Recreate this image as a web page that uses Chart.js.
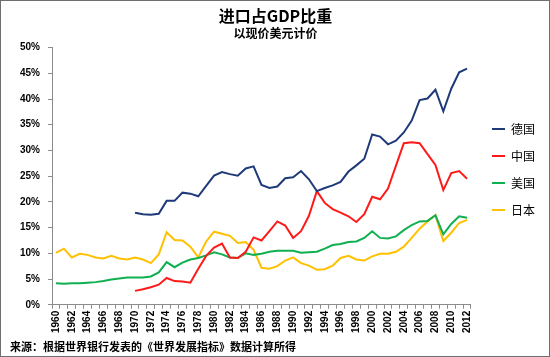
<!DOCTYPE html>
<html>
<head>
<meta charset="utf-8">
<script src="https://cdn.jsdelivr.net/npm/chart.js@4/dist/chart.umd.min.js"></script>
<style>
  html, body { margin: 0; padding: 0; background: #fff; }
  #wrap { position: relative; width: 550px; height: 357px; overflow: hidden; background: #fff; }
  #c { position: absolute; left: 0; top: 0; }
  #frame { position: absolute; left: 0; top: 0; width: 548px; height: 355px; border: 1px solid #6e6e6e; pointer-events: none; }
  #footer { position: absolute; left: 10px; top: 340px; font: bold 11px "Noto Sans CJK SC", sans-serif; color: #000; white-space: nowrap; line-height: 13px; }
</style>
</head>
<body>
<div id="wrap">
  <canvas id="c" width="550" height="357"></canvas>
  <div id="footer">来源：根据世界银行发表的《世界发展指标》数据计算所得</div>
  <div id="frame"></div>
</div>
<script>
// ---- data ----
const years = [];
for (let y = 1960; y <= 2012; y++) years.push(String(y));

const germany = [
  null, null, null, null, null, null, null, null, null, null,
  17.9, 17.6, 17.5, 17.7, 20.2, 20.2, 21.8, 21.6, 21.1, 23.1,
  25.1, 25.8, 25.4, 25.1, 26.5, 26.9, 23.3, 22.7, 23.0, 24.6,
  24.8, 26.0, 24.4, 22.1, 22.7, 23.2, 23.9, 25.9, 27.1, 28.4,
  33.1, 32.7, 31.2, 31.9, 33.5, 35.8, 39.8, 40.1, 41.8, 37.6,
  42.0, 45.2, 45.9
];
const china = [
  null, null, null, null, null, null, null, null, null, null,
  2.7, 3.0, 3.4, 3.9, 5.2, 4.6, 4.5, 4.3, 7.0, 9.5,
  11.1, 11.9, 9.2, 9.1, 10.3, 13.1, 12.5, 14.3, 16.2, 15.4,
  13.0, 14.3, 17.3, 22.1, 19.8, 18.6, 17.9, 17.2, 16.1, 17.6,
  21.0, 20.5, 22.6, 27.0, 31.4, 31.6, 31.4, 29.3, 27.2, 22.3,
  25.6, 26.0, 24.5
];
const usa = [
  4.2, 4.1, 4.2, 4.2, 4.3, 4.4, 4.6, 4.9, 5.1, 5.3,
  5.3, 5.3, 5.5, 6.3, 8.3, 7.3, 8.2, 8.8, 9.1, 9.6,
  10.2, 9.8, 9.2, 9.1, 10.0, 9.7, 9.9, 10.3, 10.5, 10.5,
  10.5, 10.1, 10.2, 10.3, 10.9, 11.6, 11.8, 12.2, 12.3, 13.0,
  14.3, 13.0, 12.9, 13.3, 14.5, 15.5, 16.2, 16.3, 17.4, 13.7,
  15.7, 17.2, 16.9
];
const japan = [
  10.1, 10.9, 9.2, 9.9, 9.7, 9.2, 9.0, 9.5, 9.0, 8.8,
  9.2, 8.8, 8.1, 9.8, 14.1, 12.6, 12.5, 11.3, 9.2, 12.3,
  14.2, 13.8, 13.4, 12.0, 12.2, 10.7, 7.2, 7.0, 7.5, 8.6,
  9.2, 8.1, 7.6, 6.8, 6.9, 7.6, 9.1, 9.5, 8.8, 8.6,
  9.4, 9.9, 9.9, 10.3, 11.3, 13.0, 14.8, 16.2, 17.4, 12.4,
  14.0, 15.9, 16.5
];
const seriesNames = ['德国', '中国', '美国', '日本'];
const yTicks = [0, 5, 10, 15, 20, 25, 30, 35, 40, 45, 50];

// ---- chart ----
const colors = ['#1F3A78', '#FF1A1A', '#10B050', '#FFC000'];
const series = [germany, china, usa, japan];
const axisFont = { family: '"Liberation Sans", Arial, sans-serif', size: 10, weight: 'bold' };

// nudge the legend column to the right of the gap after the plot area
const legendShift = {
  id: 'legendShift',
  afterLayout(chart) {
    const l = chart.legend;
    if (l) { l.left += 6; l.right += 6; }
  }
};

new Chart(document.getElementById('c'), {
  type: 'line',
  data: {
    labels: years,
    datasets: series.map((d, i) => ({
      label: seriesNames[i],
      data: d,
      borderColor: colors[i],
      backgroundColor: colors[i],
      borderWidth: 2,
      pointRadius: 0,
      tension: 0,
      fill: false
    }))
  },
  plugins: [legendShift],
  options: {
    responsive: false,
    devicePixelRatio: 1,
    animation: false,
    layout: { padding: { left: 12, right: 11, top: 4, bottom: 22 } },
    plugins: {
      title: {
        display: true,
        text: '进口占GDP比重',
        color: '#000',
        font: { family: '"Noto Sans CJK SC", sans-serif', size: 16, weight: 'bold' },
        padding: { top: 2, bottom: 0 }
      },
      subtitle: {
        display: true,
        text: '以现价美元计价',
        color: '#000',
        font: { family: '"Noto Sans CJK SC", sans-serif', size: 12, weight: 'bold' },
        padding: { top: 1, bottom: 7 }
      },
      legend: {
        position: 'right',
        labels: {
          usePointStyle: true,
          pointStyle: 'line',
          pointStyleWidth: 13,
          boxHeight: 12,
          padding: 15,
          color: '#000',
          font: { family: '"Noto Sans CJK SC", sans-serif', size: 12 }
        }
      },
      tooltip: { enabled: false }
    },
    scales: {
      x: {
        type: 'category',
        offset: true,
        grid: { offset: true, drawOnChartArea: false, drawTicks: true, tickLength: 4, color: '#8c8c8c' },
        border: { color: '#8c8c8c' },
        ticks: {
          autoSkip: false,
          minRotation: 90,
          maxRotation: 90,
          padding: 2,
          color: '#000',
          font: axisFont,
          callback: function (v, i) { return i % 2 === 0 ? years[i] : ''; }
        }
      },
      y: {
        min: 0,
        max: 50,
        afterBuildTicks: function (axis) { axis.ticks = yTicks.map(v => ({ value: v })); },
        grid: { drawOnChartArea: false, drawTicks: true, tickLength: 4, color: '#8c8c8c' },
        border: { color: '#8c8c8c' },
        ticks: {
          padding: 8,
          color: '#000',
          font: axisFont,
          callback: function (v) { return v + '%'; }
        }
      }
    }
  }
});
</script>
</body>
</html>
